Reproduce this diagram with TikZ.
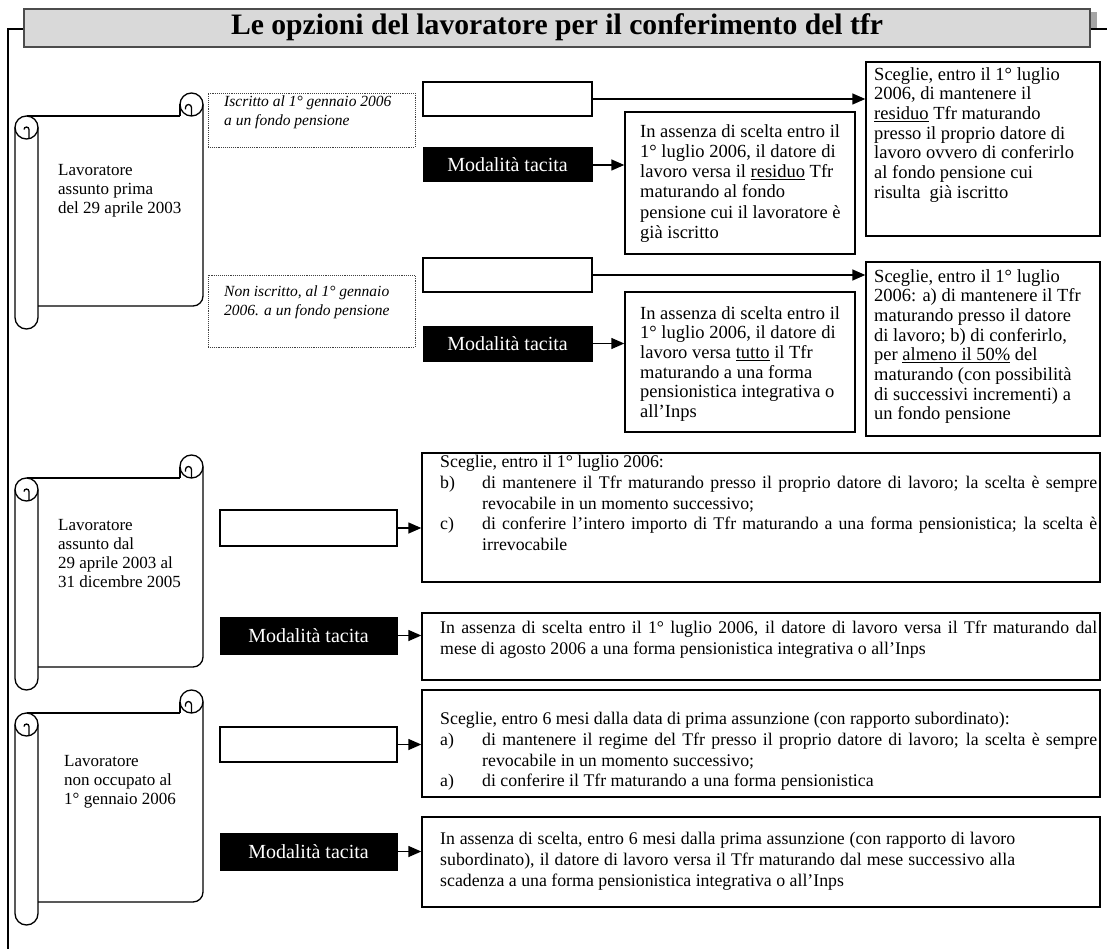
\documentclass[tikz,border=0pt]{standalone}
\usepackage{fontspec}
\usepackage{graphicx}
\setmainfont{Liberation Serif}
\usetikzlibrary{arrows.meta}
\newcommand{\drawscroll}[2]{%
  \pgfmathsetmacro\St{#1+23}%
  \pgfmathsetmacro\Sb{#2-23}%
  \pgfmathsetmacro\Tc{#1+11.5}%
  \pgfmathsetmacro\Lc{\St+11.5}%
  \pgfmathsetmacro\Bc{#2-11.5}%
  \draw[scrl] (26.5,\St) -- (180,\St);
  \draw[scrl] (180,\Tc) -- (180,\St);
  \draw[scrl] (191.5,\Tc) circle[radius=11.5];
  \draw[scrl] (191.5,\St) -- (191.5,\Tc+3) arc[start angle=0,end angle=-180,radius=3] -- ++(0,2);
  \draw[scrl] (203,\Tc) -- (203,\Sb-10) arc[start angle=0,end angle=90,radius=10] -- (38,\Sb);
  \draw[scrl] (26.5,\Lc) circle[radius=11.5];
  \draw[scrl] (15,\Lc) -- (15,\Bc) arc[start angle=180,end angle=0,radius=11.5] -- (38,\Lc);
  \draw[scrl] (29,\St+23) -- (29,\Lc+2) arc[start angle=0,end angle=-180,radius=2.5];
}
\begin{document}
\begin{tikzpicture}[x=1pt,y=-1pt,
  box/.style={draw=black,line width=1.4pt,fill=white,inner sep=0pt,rectangle},
  tacita/.style={fill=black,draw=black,line width=1pt,text=white,inner sep=0pt,font=\fontsize{20}{22}\selectfont},
  dotbox/.style={draw=black!75,densely dotted,line width=0.9pt,inner sep=0pt,rectangle},
  arr/.style={line width=1.4pt,-{Triangle[length=13pt,width=11pt]}},
  txt/.style={anchor=north west,inner sep=0pt,align=left,font=\fontsize{18.5}{19.7}\selectfont},
  txtr/.style={anchor=north west,inner sep=0pt,align=left,font=\fontsize{18.5}{20.3}\selectfont},
  txtb/.style={anchor=north west,inner sep=0pt,align=justify,font=\fontsize{17.8}{20.8}\selectfont},
  txti/.style={anchor=north west,inner sep=0pt,align=left,font=\fontsize{15.5}{19}\selectfont\itshape},
  txts/.style={anchor=north west,inner sep=0pt,align=left,font=\fontsize{17}{19}\selectfont},
  scrl/.style={line width=1.3pt,draw=black},
  frame/.style={line width=1.4pt,draw=black}]
\useasboundingbox (0,0) rectangle (1107,949);
% title
\fill[black!35] (1089,12) rectangle (1097,29);
\node[draw=black!70,line width=1.4pt,fill=black!15,minimum width=1066pt,minimum height=38pt,inner sep=0pt] (title) at (557,28) {};
\node[anchor=base,inner sep=0pt] (ttl) at (557,35) {\resizebox{652pt}{!}{\fontsize{29}{30}\selectfont\bfseries Le opzioni del lavoratore per il conferimento del tfr}};
\draw[frame] (title.west |- 0,29) -- (8,29) -- (8,949);
\draw[frame] (title.east |- 0,29) -- (1107,29);
% scrolls
\drawscroll{93}{329}
\drawscroll{455}{690}
\drawscroll{690}{925}
\node[txts] (l1) at (58,164.5) {Lavoratore\\assunto prima\\del 29 aprile 2003};
\node[txts] (l2) at (58,519.5) {Lavoratore\\assunto dal\\29 aprile 2003 al\\31 dicembre 2005};
\node[txts] (l3) at (64,755.5) {Lavoratore\\non occupato al\\1° gennaio 2006};
% dotted boxes
\node[dotbox,minimum width=207pt,minimum height=54pt] (D1) at (311.5,120) {};
\node[txti] (d1t) at (224,96) {Iscritto al 1° gennaio 2006\\a un fondo pensione};
\node[dotbox,minimum width=207pt,minimum height=72pt] (D2) at (311.5,311) {};
\node[txti] (d2t) at (224,286) {Non iscritto, al 1° gennaio\\2006. a un fondo pensione};
% row 1
\node[box,minimum width=169pt,minimum height=34pt] (E1) at (507.5,99) {};
\node[tacita,minimum width=169pt,minimum height=34pt] (M1) at (507.5,165) {Modalità tacita};
\node[box,minimum width=234pt,minimum height=174pt] (S1) at (983,149) {};
\node[box,minimum width=230pt,minimum height=142pt] (R1) at (740,183) {};
\node[txt] (s1t) at (874,67) {Sceglie, entro il 1° luglio\\2006, di mantenere il\\\underline{residuo} Tfr maturando\\presso il proprio datore di\\lavoro ovvero di conferirlo\\al fondo pensione cui\\risulta\ \ già iscritto};
\node[txtr] (r1t) at (640,124) {In assenza di scelta entro il\\1° luglio 2006, il datore di\\lavoro versa il \underline{residuo} Tfr\\maturando al fondo\\pensione cui il lavoratore è\\già iscritto};
\draw[arr] (E1.east) -- (S1.west |- E1.east);
\draw[arr] (M1.east) -- (R1.west |- M1.east);
% row 2
\node[box,minimum width=169pt,minimum height=34pt] (E2) at (507.5,275) {};
\node[tacita,minimum width=169pt,minimum height=35pt] (M2) at (507.5,343.5) {Modalità tacita};
\node[box,minimum width=234pt,minimum height=174pt] (S2) at (983,349) {};
\node[box,minimum width=230pt,minimum height=140pt] (R2) at (740,362) {};
\node[txt] (s2t) at (874,269) {Sceglie, entro il 1° luglio\\2006: a) di mantenere il Tfr\\maturando presso il datore\\di lavoro; b) di conferirlo,\\per \underline{almeno il 50\%} del\\maturando (con possibilità\\di successivi incrementi) a\\un fondo pensione};
\node[txt] (r2t) at (640,306) {In assenza di scelta entro il\\1° luglio 2006, il datore di\\lavoro versa \underline{tutto} il Tfr\\maturando a una forma\\pensionistica integrativa o\\all’Inps};
\draw[arr] (E2.east) -- (S2.west |- E2.east);
\draw[arr] (M2.east) -- (R2.west |- M2.east);
% row 3
\node[box,minimum width=177pt,minimum height=36pt] (E3) at (308.5,528) {};
\node[tacita,minimum width=177pt,minimum height=37pt] (M3) at (308.5,635.5) {Modalità tacita};
\node[box,minimum width=678pt,minimum height=129pt] (B3a) at (761,517.5) {};
\node[box,minimum width=678pt,minimum height=67pt] (B3b) at (761,646.5) {};
\node[txtb,text width=657pt] (b3at) at (440,455) {Sceglie, entro il 1° luglio 2006:\par
\hangindent=42pt\hangafter=1\makebox[42pt][l]{b)}di mantenere il Tfr maturando presso il proprio datore di lavoro; la scelta è sempre\linebreak revocabile in un momento successivo;\par
\hangindent=42pt\hangafter=1\makebox[42pt][l]{c)}di conferire l’intero importo di Tfr maturando a una forma pensionistica; la scelta è\linebreak irrevocabile\par};
\node[txtb,text width=657pt] (b3bt) at (440,621) {In assenza di scelta entro il 1° luglio 2006, il datore di lavoro versa il Tfr maturando dal\linebreak mese di agosto 2006 a una forma pensionistica integrativa o all’Inps\par};
\draw[arr] (E3.east) -- (B3a.west |- E3.east);
\draw[arr] (M3.east) -- (B3b.west |- M3.east);
% row 4
\node[box,minimum width=177pt,minimum height=35pt] (E4) at (308.5,744.5) {};
\node[tacita,minimum width=177pt,minimum height=37pt] (M4) at (308.5,851.5) {Modalità tacita};
\node[box,minimum width=678pt,minimum height=107pt] (B4a) at (761,743.5) {};
\node[box,minimum width=678pt,minimum height=90pt] (B4b) at (761,862) {};
\node[txtb,text width=657pt] (b4at) at (440,712) {Sceglie, entro 6 mesi dalla data di prima assunzione (con rapporto subordinato):\par
\hangindent=42pt\hangafter=1\makebox[42pt][l]{a)}di mantenere il regime del Tfr presso il proprio datore di lavoro; la scelta è sempre\linebreak revocabile in un momento successivo;\par
\hangindent=42pt\hangafter=1\makebox[42pt][l]{a)}di conferire il Tfr maturando a una forma pensionistica\par};
\node[txtb,text width=575pt] (b4bt) at (440,832) {In assenza di scelta, entro 6 mesi dalla prima assunzione (con rapporto di lavoro\linebreak subordinato), il datore di lavoro versa il Tfr maturando dal mese successivo alla\linebreak scadenza a una forma pensionistica integrativa o all’Inps\par};
\draw[arr] (E4.east) -- (B4a.west |- E4.east);
\draw[arr] (M4.east) -- (B4b.west |- M4.east);
\end{tikzpicture}
\end{document}
